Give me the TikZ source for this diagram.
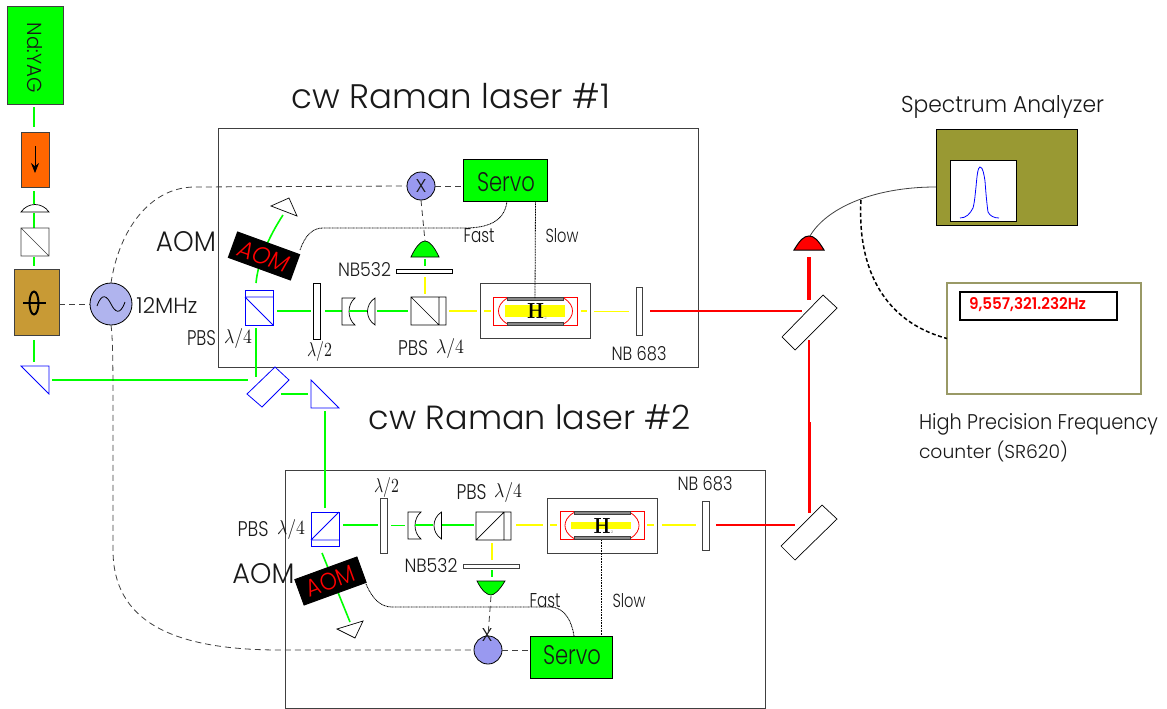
\documentclass[tikz,border=0pt]{standalone}
\usepackage{fontspec}
\usepackage{graphicx}
\usetikzlibrary{arrows.meta}
\newfontfamily\gothic{Poppins Light}
\newfontfamily\gothicb{Poppins SemiBold}
\newcommand{\wtext}[2]{\resizebox{#1pt}{!}{\gothic #2}}
\newcommand{\wh}[3]{\resizebox{#1pt}{#2pt}{\gothic #3}}
\newcommand{\lamfour}{$\lambda$/4}
\definecolor{lasergreen}{HTML}{00FF00}
\definecolor{laseryellow}{HTML}{FFFF00}
\definecolor{mixblue}{HTML}{9999F0}
\definecolor{sineblue}{HTML}{B0B4EE}
\definecolor{eomtan}{HTML}{C89A35}
\definecolor{isoorange}{HTML}{FF6600}
\definecolor{olivebox}{HTML}{999933}
\definecolor{countertan}{HTML}{999966}
\definecolor{edgegrey}{HTML}{404040}
\definecolor{bargrey}{HTML}{888888}
\tikzset{
  lab/.style={inner sep=0pt,outer sep=0pt,text=black!90},
  optic/.style={draw=black,line width=0.7pt,fill=white},
  blueoptic/.style={draw=blue,line width=0.8pt,fill=white},
  enclosure/.style={draw=edgegrey,line width=1pt},
  gbeam/.style={draw=lasergreen,line width=1.6pt},
  gthin/.style={draw=lasergreen,line width=0.9pt},
  ybeam/.style={draw=laseryellow,line width=1.6pt},
  ythin/.style={draw=laseryellow,line width=0.9pt},
  rbeam/.style={draw=red,line width=1.6pt},
  sig/.style={draw=edgegrey,line width=0.8pt,dash pattern=on 6pt off 4pt},
  fine/.style={draw=black,line width=0.8pt,dash pattern=on 1pt off 0.6pt},
  boxnode/.style={draw=black,line width=1pt,inner sep=0pt,outer sep=0pt,anchor=center},
  roundnode/.style={circle,draw=black,line width=0.8pt,inner sep=0pt,outer sep=0pt},
}
\newcommand{\cellunit}[4]{%
  \node[boxnode,fill=white,draw=edgegrey,minimum width=110pt,minimum height=55pt] (#3) at (#1,#2) {};
  \begin{scope}[shift={(#1,#2)}]
    \draw[red,line width=0.8pt,fill=white] (-42,-14) rectangle (42,14);
    \draw[red,line width=0.8pt,fill=white] (-28,-13) .. controls (-35,-9) and (-37,-4) .. (-37,0) .. controls (-37,4) and (-35,9) .. (-28,13) -- (28,13) .. controls (35,9) and (37,4) .. (37,0) .. controls (37,-4) and (35,-9) .. (28,-13) -- cycle;
    \fill[laseryellow] (-31,-#4) rectangle (29,#4);
    \draw[edgegrey,fill=bargrey,line width=0.5pt] (-28,-14) rectangle (28,-11);
    \draw[edgegrey,fill=bargrey,line width=0.5pt] (-28,11) rectangle (28,14);
    \node[inner sep=0pt] at (0,0) {\resizebox{17pt}{15pt}{\bfseries H}};
    \node[inner sep=0pt,text=bargrey] at (10,7) {\fontsize{4}{4}\selectfont 2};
  \end{scope}}
\newcommand{\lensA}[2]{\draw[optic,fill=white,shift={(#1,#2)}] (0,-13.5) -- (13,-13.5) .. controls (5,-7) and (5,7) .. (13,13.5) -- (0,13.5) -- cycle;}
\newcommand{\lensB}[2]{\draw[optic,fill=white,shift={(#1,#2)}] (8,-13.5) .. controls (-2,-7) and (-2,7) .. (8,13.5) -- cycle;}
\begin{document}
\begin{tikzpicture}[x=1pt,y=-1pt]
\useasboundingbox (0,0) rectangle (1167,709);
\fill[white] (0,0) rectangle (1167,709);

% enclosures
\node[boxnode,draw=edgegrey,minimum width=480pt,minimum height=239pt] (laserA) at (458,247.5) {};
\node[boxnode,draw=edgegrey,minimum width=480pt,minimum height=238pt] (laserB) at (525,589) {};

% titles
\node[lab] (titleA) at (451,96) {\wtext{318}{cw Raman laser \#1}};
\node[lab] (titleB) at (530,417) {\wtext{322}{cw Raman laser \#2}};

% source column
\node[boxnode,fill=lasergreen,draw=edgegrey,minimum width=56pt,minimum height=97pt] (yag) at (35,55.5) {};
\node[lab,rotate=-90] (yagt) at (35,58) {\wh{70}{15}{Nd:YAG}};
\node[boxnode,fill=isoorange,draw=edgegrey,minimum width=28pt,minimum height=55pt] (iso) at (35,159.5) {};
\coordinate (isoT) at (35,146);
\coordinate (isoB) at (35,173);
\draw[-{Stealth[length=10pt,width=8pt]},line width=0.9pt] (isoT) -- (isoB);
\draw[gbeam] (34,107) -- (34,127);
\draw[gbeam] (34,191) -- (34,204);
\draw[gbeam] (34,213) -- (34,228);
\draw[gbeam] (34,257) -- (34,266);
\draw[gbeam] (34,340) -- (34,362);
\draw[optic] (21,212) .. controls (28,202) and (42,202) .. (49,212) -- cycle;
\draw[optic,draw=edgegrey] (21,228) rectangle (49,256) (21,228) -- (49,256);
\node[boxnode,fill=eomtan,draw=edgegrey,minimum width=45pt,minimum height=66pt] (eom) at (36.5,302) {};
\draw[line width=2pt] (34,303) ellipse (4.5 and 11.5);
\draw[line width=1.8pt] (23,303) -- (46,303);
\draw[blueoptic] (21,366) -- (49,366) -- (49,394) -- cycle;
\draw[gbeam] (52,380) -- (248,380);

% oscillator
\node[roundnode,fill=sineblue,minimum size=42pt] (osc) at (111,304) {};
\draw[line width=0.8pt] (97,306) .. controls (102,292) and (107,296) .. (111,304) .. controls (115,312) and (120,316) .. (125,302);
\node[lab] (mhz) at (167,305) {\wh{61}{16}{12MHz}};
\draw[sig] (eom.east |- osc) -- (osc.west);
\node[roundnode,fill=mixblue,minimum size=28pt] (mixA) at (421,186) {};
\node[lab] (mixAt) at (421,186) {\wh{11}{13}{X}};
\node[roundnode,fill=mixblue,minimum size=28pt] (mixB) at (488,650) {};
\node[lab] (mixBt) at (487,635) {\wh{11}{13}{X}};
\draw[sig] (osc.north) .. controls (119,230) and (150,187) .. (195,187) -- (mixA.west);
\draw[sig] (osc.south) .. controls (113,340) and (113,370) .. (113,420) -- (113,550) .. controls (113,620) and (170,650) .. (280,650) -- (mixB.west);

% beam splitter and folding prism
\draw[blueoptic] (275,367) -- (289,380) -- (262,407) -- (247,394) -- cycle;
\draw[gbeam] (281,394) -- (308,394);
\draw[blueoptic] (311,380) -- (339,408) -- (311,408) -- cycle;
\draw[gbeam] (325,411) -- (325,508);

% laser 1 chain
\draw[blueoptic] (245,290) rectangle (273,325);
\draw[blueoptic] (245,297) -- (273,297) (245,297) -- (273,325);
\draw[gbeam] (256,328) -- (256,377);
\draw[gbeam] (256,283) .. controls (258,262) and (268,238) .. (283,215);
\node[boxnode,fill=black,draw=black,rotate=-20,minimum width=66pt,minimum height=27pt] (aomA) at (264,256) {};
\node[lab,text=red,rotate=-20] (aomAt) at (264,256) {\resizebox{52pt}{17pt}{\gothic\itshape AOM}};
\draw[optic] (271,206) -- (289,198) -- (297,216) -- cycle;
\node[lab] (aomAl) at (186,242) {\wh{60}{20}{AOM}};
\node[lab] (pbsAa) at (201.5,338) {\wh{29}{15}{PBS}};
\node[lab] (lamAa) at (238,338) {\resizebox{28pt}{15pt}{\lamfour}};
\draw[gbeam] (277,311) -- (311,311);
\node[boxnode,fill=white,minimum width=7pt,minimum height=56pt] (hwA) at (317,311) {};
\node[lab] (hwAt) at (319.5,351) {\resizebox{25pt}{15pt}{$\lambda$/2}};
\draw[gbeam] (325,311) -- (342,311);
\lensA{342}{311.5}
\draw[gbeam] (349,311) -- (367,311);
\lensB{367}{311.5}
\draw[gbeam] (377,311) -- (408,311);
\draw[optic] (411,297) rectangle (446,325) (439,297) -- (439,325) (411,297) -- (439,325);
\node[lab] (pbsAb) at (413,348) {\wh{30}{15}{PBS}};
\node[lab] (lamAb) at (450,348) {\resizebox{28pt}{15pt}{\lamfour}};
\draw[ybeam] (425,277) -- (425,294);
\node[boxnode,fill=white,minimum width=56pt,minimum height=4.5pt] (nbgA) at (424,271.5) {};
\node[lab] (nbgAt) at (364.5,270) {\wh{53}{14}{NB532}};
\draw[gbeam] (425,259) -- (425,266);
\draw[optic,fill=lasergreen] (411,257) .. controls (416,246) and (421,241) .. (425,241) .. controls (429,241) and (434,246) .. (439,257) -- cycle;
\coordinate (detA) at (425,241);
\draw[sig] (mixA.south) -- (detA);
\node[boxnode,fill=lasergreen,minimum width=84pt,minimum height=42pt] (servoA) at (505,180) {};
\node[lab] (servoAt) at (506,182) {\wh{58}{19}{Servo}};
\draw[sig] (mixA.east) -- (servoA.west |- mixA);
\draw[ybeam] (449,311) -- (477,311);
\cellunit{535.5}{311}{cellA}{6}
\draw[ybeam] (484,311) -- (491,311);
\draw[ybeam] (581,311) -- (587,311);
\draw[ythin] (594,311) -- (629,311);
\node[boxnode,fill=white,draw=edgegrey,minimum width=6pt,minimum height=48pt] (nbrA) at (639,311) {};
\node[lab] (nbrAt) at (639,354) {\wh{55}{14}{NB 683}};
\draw[rbeam] (650,311) -- (802,311);
\coordinate (fastAs) at (507,201);
\draw[fine] (300,250) .. controls (305,236) and (312,228) .. (323,228) -- (465,228) .. controls (490,228) and (505,220) .. (fastAs);
\draw[fine] (servoA.south -| cellA) -- (535,298);
\node[lab] (fastA) at (479,236) {\wh{31}{14}{Fast}};
\node[lab] (slowA) at (562,236) {\wh{33}{14}{Slow}};

% laser 2 chain
\draw[blueoptic] (311,512) rectangle (339,546);
\draw[blueoptic] (311,540) -- (339,540) (311,540) -- (339,512);
\node[lab] (pbsBa) at (253,529) {\wh{31}{15}{PBS}};
\node[lab] (lamBa) at (291,529) {\resizebox{28pt}{15pt}{\lamfour}};
\draw[gbeam] (343,525) -- (378,525);
\node[boxnode,fill=white,draw=edgegrey,minimum width=6.5pt,minimum height=55pt] (hwB) at (384,525.5) {};
\node[lab] (hwBt) at (386.5,487) {\resizebox{25pt}{15pt}{$\lambda$/2}};
\draw[gthin] (391,525) -- (405,525);
\lensA{408}{525.5}
\draw[gbeam] (415,525) -- (433,525);
\lensB{433.5}{525.5}
\draw[gbeam] (442,525) -- (474,525);
\draw[optic] (476,512) rectangle (511,540) (504,512) -- (504,540) (476,540) -- (504,512);
\node[lab] (pbsBb) at (471.5,492) {\wh{30}{15}{PBS}};
\node[lab] (lamBb) at (508,492) {\resizebox{28pt}{15pt}{\lamfour}};
\draw[ybeam] (492,543) -- (492,560);
\node[boxnode,fill=white,draw=edgegrey,minimum width=56pt,minimum height=4pt] (nbgB) at (491,566) {};
\node[lab] (nbgBt) at (431,566) {\wh{53}{14}{NB532}};
\draw[gbeam] (492,570) -- (492,577);
\draw[optic,fill=lasergreen] (477,581) -- (505,581) .. controls (499,591) and (494,595) .. (491,595) .. controls (487,595) and (482,591) .. (477,581) -- cycle;
\coordinate (detB) at (491,596);
\draw[sig] (detB) -- (mixB.north);
\node[boxnode,fill=lasergreen,minimum width=82pt,minimum height=42pt] (servoB) at (571,657) {};
\node[lab] (servoBt) at (572,655) {\wh{58}{19}{Servo}};
\draw[sig] (mixB.east) -- (servoB.west |- mixB);
\draw[ybeam] (516,525) -- (543,525);
\cellunit{602}{525.5}{cellB}{3.5}
\draw[ybeam] (550,525) -- (557,525);
\draw[ybeam] (647,525) -- (654,525);
\draw[ybeam] (662,525) -- (696,525);
\node[boxnode,fill=white,draw=edgegrey,minimum width=7pt,minimum height=49pt] (nbrB) at (705.5,525.5) {};
\node[lab] (nbrBt) at (705,484) {\wh{55}{14}{NB 683}};
\draw[rbeam] (716,525) -- (795,525);
\draw[gbeam] (322,553) -- (350,622);
\node[boxnode,fill=black,draw=black,rotate=20,minimum width=66pt,minimum height=27pt] (aomB) at (330.5,581) {};
\node[lab,text=red,rotate=20] (aomBt) at (330.5,581) {\resizebox{50pt}{17pt}{\gothic AOM}};
\draw[optic] (337,629) -- (363,621) -- (355,638) -- cycle;
\node[lab] (aomBl) at (263.5,574) {\wh{62}{20}{AOM}};
\coordinate (fastBs) at (574,636);
\draw[fine] (366,584) .. controls (372,598) and (380,607) .. (392,607) -- (550,607) .. controls (565,607) and (572,622) .. (fastBs);
\draw[fine] (601,540) -- (servoB.north -| 601,0);
\node[lab] (fastB) at (545,601) {\wh{31}{14}{Fast}};
\node[lab] (slowB) at (629,601) {\wh{33}{14}{Slow}};

% combining optics
\draw[optic] (823,295) -- (837,308) -- (795,350) -- (782,337) -- cycle;
\draw[optic] (822,505) -- (837,519) -- (795,560) -- (781,546) -- cycle;
\draw[red,line width=4pt] (809,257) -- (809,300);
\draw[red,line width=1.8pt] (809,340) -- (809,422);
\draw[red,line width=3pt] (809,422) -- (809,513);
\draw[draw=black,line width=1pt,fill=red] (794,250) .. controls (800,240) and (804,236) .. (809,236) .. controls (814,236) and (818,240) .. (824,250) -- cycle;
\coordinate (detR) at (810,236);

% analyzer
\node[boxnode,fill=olivebox,minimum width=141pt,minimum height=96pt] (sa) at (1006.5,177) {};
\node[boxnode,fill=white,minimum width=66pt,minimum height=61pt] (screen) at (983,190.5) {};
\draw[blue,line width=0.8pt] (960,218) .. controls (966,218) and (970,214) .. (973,208) .. controls (975,200) and (975,195) .. (976,187) .. controls (977,175) and (978,167) .. (980,167) .. controls (983,167) and (984,175) .. (985,181) .. controls (986,195) and (987,205) .. (988,212) .. controls (990,216) and (994,218) .. (999,218);
\node[lab] (sat) at (1002.5,107) {\wh{203}{17}{Spectrum Analyzer}};
\draw[edgegrey,line width=0.8pt] (detR) .. controls (825,210) and (870,187) .. (sa.west |- 0,187);
\node[boxnode,draw=countertan,line width=2pt,minimum width=194pt,minimum height=111pt] (counter) at (1044,338.5) {};
\node[boxnode,line width=2.4pt,minimum width=157pt,minimum height=28pt] (display) at (1038.5,306) {};
\node[lab,text=red] (dispt) at (1027.5,305) {\resizebox{117pt}{12pt}{\gothicb 9,557,321.232Hz}};
\coordinate (tap) at (861,200);
\draw[black,line width=1.5pt,dash pattern=on 4pt off 2.5pt] (tap) .. controls (857,270) and (885,322) .. (counter.west);
\node[lab,anchor=west] (hp1) at (919,424) {\wh{239}{16}{High Precision Frequency}};
\node[lab,anchor=west] (hp2) at (919,451) {\resizebox{149pt}{!}{\gothic counter (SR620)}};
\end{tikzpicture}
\end{document}
